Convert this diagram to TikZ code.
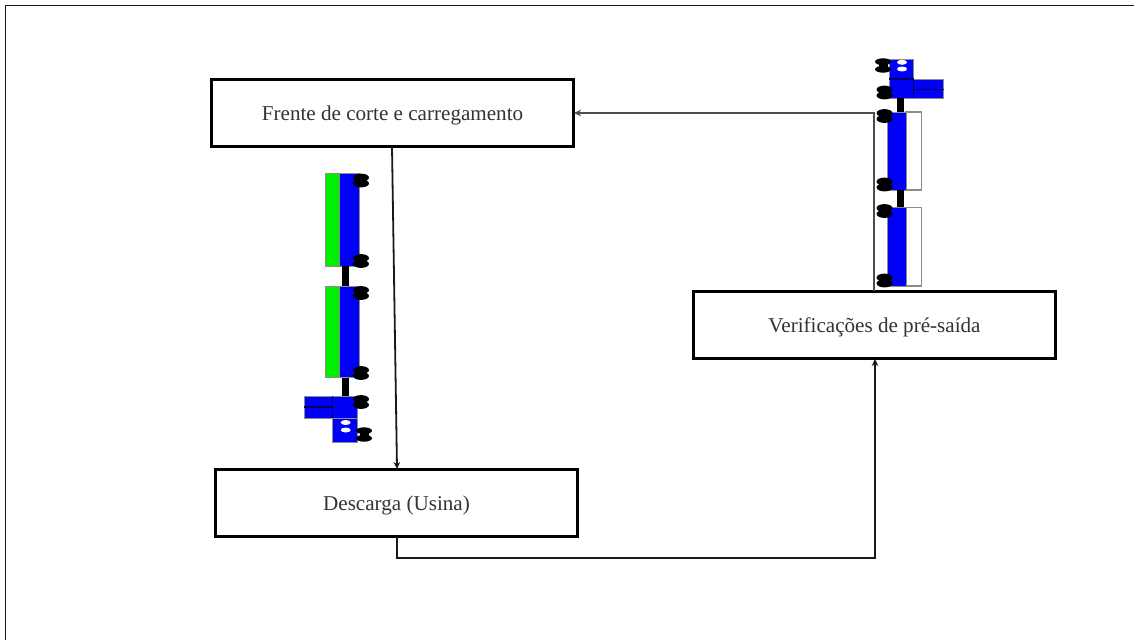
\documentclass[tikz,border=0pt]{standalone}
\usepackage{fontspec}
\setmainfont{Liberation Serif}
\usetikzlibrary{arrows.meta}
\definecolor{truckblue}{RGB}{0,0,245}
\definecolor{truckgreen}{RGB}{0,240,0}
\tikzset{
  x=1pt,y=-1pt,
  stagebox/.style={draw=black,line width=2.2pt,fill=white,text=black!80,minimum width=362pt,minimum height=67pt,inner sep=0pt,text height=15pt,text depth=0pt,font=\fontsize{21.1}{24}\selectfont},
  flow/.style={draw=black!90,line width=1.8pt,-{Stealth[length=7pt,width=6.5pt]}},
  body/.style={fill=truckblue,draw=black!45,line width=.9pt},
  load/.style={fill=truckgreen,draw=black!45,line width=.9pt},
  empty/.style={fill=white,draw=black!45,line width=1.1pt},
  hitch/.style={fill=black,draw=none},
  seam/.style={draw=black!60!truckblue,line width=1.3pt},
  tyre/.style={fill=black,draw=none},
  glass/.style={fill=white,draw=none},
  pics/wheelpair/.style={code={
    \fill[tyre] (0,-2.9) ellipse [x radius=8pt,y radius=4pt];
    \fill[tyre] (0,2.9) ellipse [x radius=8pt,y radius=4pt];
    \fill[tyre] (-5.5,-3) rectangle (5.5,3);
  }},
  pics/wheelsplit/.style={code={
    \fill[tyre] (0,-3.8) ellipse [x radius=8pt,y radius=3.4pt];
    \fill[tyre] (0,3.8) ellipse [x radius=8pt,y radius=3.4pt];
    \fill[tyre] (-4.5,-3) rectangle (4.5,3);
  }}
}
\begin{document}
\begin{tikzpicture}
\useasboundingbox (0,0) rectangle (1134,640);
\fill[white] (0,0) rectangle (1134,640);
\coordinate (bl) at (5.5,640);
\coordinate (tl) at (5.5,5.5);
\coordinate (tr) at (1134,5.5);
\draw[black!90,line width=1.7pt] (bl) -- (tl) -- (tr);

% left truck
\path[load] (325.5,173) rectangle (339.5,266);
\path[body] (339.5,173) rectangle (359,266);
\path[hitch] (342,266) rectangle (349,286);
\path[load] (325.5,286) rectangle (339.5,377.5);
\path[body] (339.5,286) rectangle (359,377.5);
\path[hitch] (342,377.5) rectangle (349,396);
\path[body] (304,396) rectangle (332.5,418);
\path[body] (332.5,396) rectangle (357,418);
\draw[seam] (304,407) -- (332.5,407);
\draw[seam] (332.5,396) -- (332.5,418);
\path[body] (332.5,418) rectangle (357,442);
\fill[glass] (345.7,422.5) ellipse [x radius=5pt,y radius=2.5pt];
\fill[glass] (345.7,430) ellipse [x radius=5pt,y radius=2.5pt];
\pic at (361,180.5) {wheelpair};
\pic at (361,261) {wheelpair};
\pic at (361,293) {wheelpair};
\pic at (361,373) {wheelpair};
\pic at (361,402) {wheelpair};
\pic at (364,434.5) {wheelsplit};

% right truck
\path[body] (889,59.5) rectangle (913.5,79);
\fill[glass] (902,62.3) ellipse [x radius=5pt,y radius=2.5pt];
\fill[glass] (902,69) ellipse [x radius=5pt,y radius=2.5pt];
\path[body] (889,79) rectangle (913.5,98);
\path[body] (913.5,79) rectangle (943.5,98);
\draw[seam] (889,79) -- (913.5,79);
\draw[seam] (913.5,79) -- (913.5,98);
\draw[seam] (913.5,89.3) -- (943.5,89.3);
\path[hitch] (896.7,98) rectangle (904,112);
\path[empty] (906,112) rectangle (921.7,190);
\path[body] (887.5,112) rectangle (906,190);
\path[hitch] (896.7,190) rectangle (904,207.5);
\path[empty] (906,207.5) rectangle (921.7,286);
\path[body] (887.5,207.5) rectangle (906,286);
\pic at (883,65.5) {wheelsplit};
\pic at (884.5,92.5) {wheelpair};
\pic at (884.5,116) {wheelpair};
\pic at (884.5,184.5) {wheelpair};
\pic at (884.5,211) {wheelpair};
\pic at (884.5,280.5) {wheelpair};

% stages
\node[stagebox] (frente) at (392.5,113) {Frente de corte e carregamento};
\node[stagebox] (descarga) at (396.5,503) {Descarga (Usina)};
\node[stagebox] (verif) at (874.5,325) {Verificações de pré-saída};

% connectors
\coordinate (fout) at (392,147);
\coordinate (din) at (397,469);
\coordinate (dout) at (397,537);
\coordinate (lowturn) at (875,558);
\coordinate (vin) at (875,359);
\coordinate (vout) at (874,291);
\coordinate (fin) at (574,113);
\draw[flow] (fout) -- (din);
\draw[flow,line width=2pt] (dout) |- (lowturn) -- (vin);
\draw[flow,draw=black!70] (vout) |- (fin);
\end{tikzpicture}
\end{document}
